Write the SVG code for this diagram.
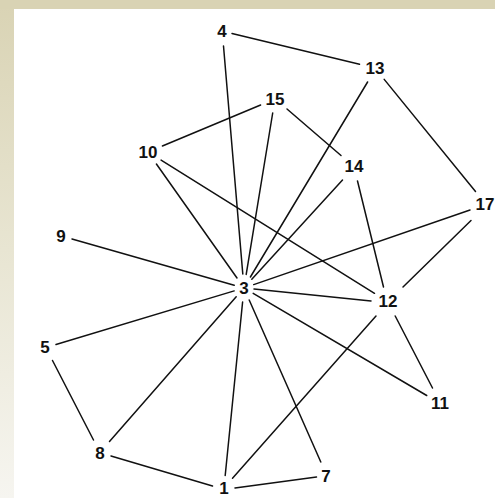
<svg xmlns="http://www.w3.org/2000/svg" width="495" height="498" viewBox="0 0 495 498">
<defs>
<linearGradient id="side" x1="0" y1="0" x2="0" y2="1">
<stop offset="0" stop-color="#d9d3b4"/>
<stop offset="0.5" stop-color="#e8e5d2"/>
<stop offset="1" stop-color="#f6f5f0"/>
</linearGradient>
<style>
.e{stroke:#111;stroke-width:1.5;fill:none;stroke-linecap:round}
.n text{font-family:"Liberation Sans",Arial,sans-serif;font-size:17px;font-weight:bold;fill:#111;text-anchor:middle}
</style>
</defs>
<rect x="0" y="0" width="495" height="498" fill="url(#side)"/>
<rect x="0" y="0" width="495" height="9" fill="#d9d3b4"/>
<rect x="14" y="9" width="481" height="489" fill="#ffffff"/>
<g id="connectors">
<line class="e" x1="232" y1="33.4" x2="359.5" y2="64.3"/>
<line class="e" x1="223.5" y1="46" x2="242.8" y2="274"/>
<line class="e" x1="367.6" y1="82" x2="250.4" y2="277"/>
<line class="e" x1="384.2" y1="79.4" x2="475.5" y2="191.5"/>
<line class="e" x1="260.6" y1="105" x2="162.4" y2="146"/>
<line class="e" x1="272.7" y1="113" x2="246.2" y2="274.4"/>
<line class="e" x1="287" y1="109" x2="341" y2="155.5"/>
<line class="e" x1="156.4" y1="164" x2="237" y2="278"/>
<line class="e" x1="161.1" y1="160.1" x2="374.5" y2="293.3"/>
<line class="e" x1="342.5" y1="180" x2="251.8" y2="279.3"/>
<line class="e" x1="357.5" y1="181" x2="383.5" y2="287"/>
<line class="e" x1="470" y1="210" x2="253.7" y2="284.6"/>
<line class="e" x1="471" y1="220.5" x2="403" y2="287"/>
<line class="e" x1="72" y1="239" x2="234.2" y2="285.2"/>
<line class="e" x1="254" y1="289" x2="371" y2="301"/>
<line class="e" x1="253.2" y1="293.4" x2="426.7" y2="395.5"/>
<line class="e" x1="234.2" y1="290.9" x2="56" y2="344.5"/>
<line class="e" x1="236.2" y1="296.8" x2="109.5" y2="441.5"/>
<line class="e" x1="242.6" y1="302" x2="225.2" y2="475.5"/>
<line class="e" x1="249.2" y1="300" x2="320.8" y2="462"/>
<line class="e" x1="395.2" y1="316" x2="432.5" y2="388"/>
<line class="e" x1="376" y1="316" x2="232.5" y2="478.3"/>
<line class="e" x1="52.5" y1="360.5" x2="93.5" y2="440"/>
<line class="e" x1="111" y1="456" x2="212.5" y2="486"/>
<line class="e" x1="235" y1="488" x2="316.5" y2="477"/>
</g>
<g class="n" id="n1"><text x="224" y="494">1</text></g>
<g class="n" id="n3"><text x="244" y="294">3</text></g>
<g class="n" id="n4"><text x="222" y="37">4</text></g>
<g class="n" id="n5"><text x="45" y="353">5</text></g>
<g class="n" id="n7"><text x="326" y="482">7</text></g>
<g class="n" id="n8"><text x="100" y="459">8</text></g>
<g class="n" id="n9"><text x="61" y="242">9</text></g>
<g class="n" id="n10"><text x="148" y="158">10</text></g>
<g class="n" id="n11"><text x="440" y="409">11</text></g>
<g class="n" id="n12"><text x="388" y="307">12</text></g>
<g class="n" id="n13"><text x="375" y="74">13</text></g>
<g class="n" id="n14"><text x="354" y="172">14</text></g>
<g class="n" id="n15"><text x="275" y="105">15</text></g>
<g class="n" id="n17"><text x="485" y="210">17</text></g>
</svg>
